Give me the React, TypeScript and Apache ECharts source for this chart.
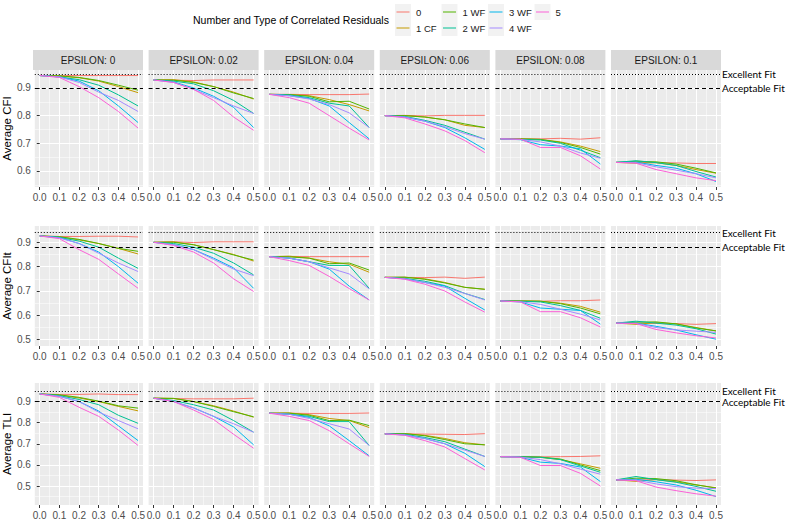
import React, { useEffect, useRef } from 'react';
import * as echarts from 'echarts';

// ---------------- data ----------------
const xValues = [0, 0.1, 0.2, 0.3, 0.4, 0.5];
const epsilonLabels = ['EPSILON: 0', 'EPSILON: 0.02', 'EPSILON: 0.04', 'EPSILON: 0.06', 'EPSILON: 0.08', 'EPSILON: 0.1'];
const groupNames = ['0', '1 CF', '1 WF', '2 WF', '3 WF', '4 WF', '5'];
const rowTitles = ['Average CFI', 'Average CFIt', 'Average TLI'];
const excellentCut = [0.95, 0.941, 0.954];
const acceptableCut = [0.9, 0.884, 0.9];
const yTicksCFI = [0.6, 0.7, 0.8, 0.9];
const yTicksCFIt = [0.5, 0.6, 0.7, 0.8, 0.9];
const yTicksTLI = [0.5, 0.6, 0.7, 0.8, 0.9];

// CFI panels (rows: 0, 1 CF, 1 WF, 2 WF, 3 WF, 4 WF, 5)
const cfiEps0 = [
  [0.945, 0.945, 0.945, 0.945, 0.945, 0.945],
  [0.945, 0.943, 0.937, 0.925, 0.905, 0.883],
  [0.945, 0.944, 0.938, 0.927, 0.910, 0.892],
  [0.945, 0.940, 0.930, 0.910, 0.875, 0.835],
  [0.945, 0.940, 0.925, 0.890, 0.835, 0.775],
  [0.945, 0.940, 0.920, 0.885, 0.855, 0.815],
  [0.945, 0.938, 0.905, 0.865, 0.815, 0.755],
];
const cfiEps002 = [
  [0.929, 0.928, 0.927, 0.929, 0.929, 0.929],
  [0.929, 0.930, 0.922, 0.905, 0.885, 0.860],
  [0.929, 0.928, 0.920, 0.905, 0.882, 0.862],
  [0.929, 0.925, 0.915, 0.890, 0.855, 0.808],
  [0.929, 0.922, 0.900, 0.870, 0.830, 0.757],
  [0.929, 0.920, 0.895, 0.865, 0.835, 0.808],
  [0.929, 0.920, 0.895, 0.855, 0.795, 0.747],
];
const cfiEps004 = [
  [0.877, 0.877, 0.876, 0.876, 0.876, 0.878],
  [0.877, 0.876, 0.872, 0.858, 0.840, 0.817],
  [0.877, 0.876, 0.870, 0.850, 0.852, 0.824],
  [0.877, 0.875, 0.865, 0.845, 0.835, 0.757],
  [0.877, 0.872, 0.862, 0.835, 0.775, 0.716],
  [0.877, 0.872, 0.860, 0.840, 0.810, 0.757],
  [0.877, 0.865, 0.845, 0.800, 0.755, 0.712],
];
const cfiEps006 = [
  [0.800, 0.801, 0.799, 0.801, 0.801, 0.801],
  [0.800, 0.800, 0.795, 0.785, 0.765, 0.757],
  [0.800, 0.800, 0.795, 0.785, 0.770, 0.757],
  [0.800, 0.797, 0.783, 0.765, 0.740, 0.715],
  [0.800, 0.795, 0.780, 0.757, 0.720, 0.678],
  [0.800, 0.795, 0.780, 0.760, 0.735, 0.715],
  [0.800, 0.792, 0.770, 0.745, 0.710, 0.666],
];
const cfiEps008 = [
  [0.716, 0.716, 0.716, 0.718, 0.715, 0.720],
  [0.716, 0.716, 0.714, 0.705, 0.690, 0.670],
  [0.716, 0.716, 0.714, 0.703, 0.685, 0.661],
  [0.716, 0.714, 0.712, 0.700, 0.675, 0.648],
  [0.716, 0.713, 0.695, 0.690, 0.680, 0.625],
  [0.716, 0.714, 0.705, 0.690, 0.665, 0.646],
  [0.716, 0.715, 0.685, 0.685, 0.655, 0.607],
];
const cfiEps010 = [
  [0.631, 0.631, 0.630, 0.629, 0.627, 0.627],
  [0.631, 0.628, 0.630, 0.620, 0.605, 0.592],
  [0.631, 0.635, 0.633, 0.625, 0.610, 0.593],
  [0.631, 0.637, 0.630, 0.620, 0.598, 0.578],
  [0.631, 0.632, 0.620, 0.610, 0.590, 0.562],
  [0.631, 0.630, 0.615, 0.603, 0.590, 0.575],
  [0.631, 0.628, 0.605, 0.590, 0.575, 0.565],
];

// CFIt panels
const cfitEps0 = [
  [0.926, 0.924, 0.924, 0.925, 0.925, 0.922],
  [0.926, 0.922, 0.910, 0.895, 0.875, 0.852],
  [0.926, 0.923, 0.912, 0.895, 0.875, 0.863],
  [0.926, 0.920, 0.905, 0.880, 0.835, 0.793],
  [0.926, 0.920, 0.895, 0.860, 0.800, 0.732],
  [0.926, 0.918, 0.895, 0.855, 0.815, 0.780],
  [0.926, 0.915, 0.870, 0.830, 0.770, 0.711],
];
const cfitEps002 = [
  [0.900, 0.902, 0.899, 0.902, 0.902, 0.902],
  [0.900, 0.902, 0.890, 0.870, 0.850, 0.823],
  [0.900, 0.900, 0.890, 0.870, 0.848, 0.827],
  [0.900, 0.895, 0.880, 0.855, 0.815, 0.766],
  [0.900, 0.890, 0.870, 0.835, 0.795, 0.711],
  [0.900, 0.890, 0.870, 0.830, 0.790, 0.763],
  [0.900, 0.887, 0.860, 0.815, 0.750, 0.698],
];
const cfitEps004 = [
  [0.841, 0.842, 0.841, 0.841, 0.841, 0.841],
  [0.841, 0.843, 0.835, 0.820, 0.810, 0.777],
  [0.841, 0.840, 0.835, 0.812, 0.815, 0.786],
  [0.841, 0.835, 0.820, 0.805, 0.805, 0.711],
  [0.841, 0.835, 0.820, 0.790, 0.720, 0.663],
  [0.841, 0.835, 0.820, 0.795, 0.770, 0.709],
  [0.841, 0.825, 0.805, 0.760, 0.710, 0.663],
];
const cfitEps006 = [
  [0.756, 0.756, 0.755, 0.757, 0.752, 0.757],
  [0.756, 0.756, 0.750, 0.735, 0.715, 0.707],
  [0.756, 0.757, 0.748, 0.733, 0.715, 0.707],
  [0.756, 0.752, 0.740, 0.722, 0.690, 0.665],
  [0.756, 0.750, 0.735, 0.720, 0.670, 0.622],
  [0.756, 0.750, 0.735, 0.715, 0.690, 0.663],
  [0.756, 0.748, 0.728, 0.700, 0.655, 0.613],
];
const cfitEps008 = [
  [0.659, 0.659, 0.658, 0.660, 0.660, 0.663],
  [0.659, 0.659, 0.658, 0.650, 0.637, 0.613],
  [0.659, 0.659, 0.658, 0.648, 0.630, 0.606],
  [0.659, 0.658, 0.655, 0.640, 0.620, 0.588],
  [0.659, 0.655, 0.630, 0.625, 0.620, 0.564],
  [0.659, 0.656, 0.645, 0.625, 0.605, 0.581],
  [0.659, 0.655, 0.615, 0.615, 0.590, 0.552],
];
const cfitEps010 = [
  [0.568, 0.568, 0.567, 0.566, 0.563, 0.566],
  [0.568, 0.563, 0.570, 0.565, 0.550, 0.536],
  [0.568, 0.572, 0.573, 0.565, 0.548, 0.536],
  [0.568, 0.576, 0.568, 0.560, 0.545, 0.523],
  [0.568, 0.568, 0.555, 0.540, 0.520, 0.502],
  [0.568, 0.567, 0.550, 0.540, 0.535, 0.530],
  [0.568, 0.566, 0.542, 0.528, 0.516, 0.507],
];

// TLI panels
const tliEps0 = [
  [0.936, 0.934, 0.934, 0.936, 0.933, 0.933],
  [0.936, 0.930, 0.917, 0.900, 0.877, 0.856],
  [0.936, 0.932, 0.920, 0.902, 0.880, 0.869],
  [0.936, 0.928, 0.910, 0.885, 0.835, 0.797],
  [0.936, 0.925, 0.900, 0.855, 0.785, 0.715],
  [0.936, 0.925, 0.900, 0.850, 0.810, 0.771],
  [0.936, 0.920, 0.873, 0.830, 0.765, 0.692],
];
const tliEps002 = [
  [0.916, 0.914, 0.913, 0.913, 0.913, 0.916],
  [0.916, 0.915, 0.900, 0.880, 0.855, 0.826],
  [0.916, 0.915, 0.900, 0.877, 0.852, 0.828],
  [0.916, 0.905, 0.885, 0.860, 0.810, 0.755],
  [0.916, 0.900, 0.870, 0.830, 0.780, 0.695],
  [0.916, 0.900, 0.870, 0.830, 0.795, 0.755],
  [0.916, 0.900, 0.860, 0.815, 0.745, 0.679],
];
const tliEps004 = [
  [0.845, 0.845, 0.844, 0.844, 0.844, 0.846],
  [0.845, 0.846, 0.838, 0.820, 0.810, 0.777],
  [0.845, 0.845, 0.835, 0.810, 0.812, 0.786],
  [0.845, 0.840, 0.830, 0.805, 0.805, 0.692],
  [0.845, 0.840, 0.825, 0.785, 0.715, 0.643],
  [0.845, 0.840, 0.820, 0.795, 0.770, 0.692],
  [0.845, 0.830, 0.810, 0.762, 0.700, 0.640],
];
const tliEps006 = [
  [0.747, 0.747, 0.746, 0.745, 0.744, 0.748],
  [0.747, 0.748, 0.740, 0.725, 0.705, 0.695],
  [0.747, 0.748, 0.738, 0.720, 0.700, 0.695],
  [0.747, 0.745, 0.730, 0.710, 0.675, 0.640],
  [0.747, 0.742, 0.725, 0.700, 0.655, 0.592],
  [0.747, 0.742, 0.725, 0.700, 0.670, 0.640],
  [0.747, 0.740, 0.715, 0.685, 0.630, 0.576],
];
const tliEps008 = [
  [0.639, 0.639, 0.638, 0.639, 0.640, 0.643],
  [0.639, 0.638, 0.636, 0.625, 0.605, 0.584],
  [0.639, 0.639, 0.637, 0.628, 0.600, 0.573],
  [0.639, 0.638, 0.636, 0.625, 0.595, 0.565],
  [0.639, 0.636, 0.613, 0.607, 0.590, 0.521],
  [0.639, 0.637, 0.625, 0.605, 0.580, 0.556],
  [0.639, 0.636, 0.597, 0.597, 0.560, 0.500],
];
const tliEps010 = [
  [0.529, 0.528, 0.531, 0.528, 0.526, 0.529],
  [0.529, 0.522, 0.530, 0.520, 0.505, 0.492],
  [0.529, 0.537, 0.535, 0.525, 0.506, 0.490],
  [0.529, 0.545, 0.530, 0.518, 0.498, 0.475],
  [0.529, 0.532, 0.520, 0.505, 0.480, 0.450],
  [0.529, 0.528, 0.510, 0.497, 0.490, 0.488],
  [0.529, 0.525, 0.495, 0.478, 0.463, 0.452],
];

const cfiPanels = [cfiEps0, cfiEps002, cfiEps004, cfiEps006, cfiEps008, cfiEps010];
const cfitPanels = [cfitEps0, cfitEps002, cfitEps004, cfitEps006, cfitEps008, cfitEps010];
const tliPanels = [tliEps0, tliEps002, tliEps004, tliEps006, tliEps008, tliEps010];

// ---------------- layout / style ----------------
const COLORS = ['#F8766D', '#C49A00', '#53B400', '#00C094', '#00B6EB', '#A58AFF', '#FB61D7'];
const FONT = '"Liberation Sans", Arial, sans-serif';
const FIT_FONT = 'Lato, "Open Sans", sans-serif';
const PANEL_LEFT0 = 33;
const PANEL_PITCH = 115.6;
const PANEL_W = 110;
const ROW_TOP = [70, 226, 383];
const ROW_H = [117, 120, 122];
const ROW_YMIN = [0.542, 0.474, 0.41];
const ROW_YMAX = [0.965, 0.967, 0.988];
const STRIP_TOP = 50;
const STRIP_H = 20;

function buildOption() {
  const rows = [cfiPanels, cfitPanels, tliPanels];
  const rowTicks = [yTicksCFI, yTicksCFIt, yTicksTLI];
  const grid: any[] = [];
  const xAxis: any[] = [];
  const yAxis: any[] = [];
  const series: any[] = [];
  const graphic: any[] = [];

  rows.forEach((panels, r) => {
    panels.forEach((panel, c) => {
      const idx = r * 6 + c;
      const left = PANEL_LEFT0 + c * PANEL_PITCH;
      grid.push({
        left, top: ROW_TOP[r], width: PANEL_W, height: ROW_H[r],
        show: true, backgroundColor: '#EBEBEB', borderWidth: 0, containLabel: false,
      });
      xAxis.push({
        gridIndex: idx, type: 'value', min: -0.025, max: 0.525,
        minInterval: 0.1, maxInterval: 0.1,
        axisLine: { show: false },
        axisTick: { show: true, length: 3, lineStyle: { color: '#333333', width: 1 }, customValues: xValues },
        axisLabel: {
          customValues: xValues, formatter: (v: number) => v.toFixed(1),
          color: '#4D4D4D', fontSize: 10, margin: 5, fontFamily: FONT,
        },
        splitLine: { show: true, lineStyle: { color: '#FFFFFF', width: 1 } },
        minorTick: { show: false, splitNumber: 2 },
        minorSplitLine: { show: true, lineStyle: { color: '#FFFFFF', width: 0.5 } },
      });
      const first = c === 0;
      yAxis.push({
        gridIndex: idx, type: 'value', min: ROW_YMIN[r], max: ROW_YMAX[r],
        minInterval: 0.1, maxInterval: 0.1,
        axisLine: { show: false },
        axisTick: { show: first, length: 3, lineStyle: { color: '#333333', width: 1 }, customValues: rowTicks[r] },
        axisLabel: {
          show: first, customValues: rowTicks[r], formatter: (v: number) => v.toFixed(1),
          color: '#4D4D4D', fontSize: 10, margin: 4, fontFamily: FONT,
        },
        splitLine: { show: true, lineStyle: { color: '#FFFFFF', width: 1 } },
        minorTick: { show: false, splitNumber: 2 },
        minorSplitLine: { show: true, lineStyle: { color: '#FFFFFF', width: 0.5 } },
        name: first ? rowTitles[r] : '',
        nameLocation: 'middle', nameGap: 19,
        nameTextStyle: { fontSize: 11.5, color: '#000000', fontFamily: FONT },
      });
      panel.forEach((vals, g) => {
        const s: any = {
          type: 'line', name: groupNames[g], xAxisIndex: idx, yAxisIndex: idx,
          data: xValues.map((x, i) => [x, vals[i]]),
          symbol: 'none', showSymbol: false, silent: true,
          lineStyle: { color: COLORS[g], width: 1 }, itemStyle: { color: COLORS[g] },
          z: 3,
        };
        if (g === 0) {
          const last = c === 5;
          s.markLine = {
            silent: true, symbol: 'none', animation: false,
            data: [
              {
                yAxis: excellentCut[r],
                lineStyle: { color: '#000000', width: 1, type: [1, 2] },
                label: { show: last, position: 'end', formatter: 'Excellent Fit', distance: 1, color: '#000', fontSize: 10, fontFamily: FIT_FONT },
              },
              {
                yAxis: acceptableCut[r],
                lineStyle: { color: '#000000', width: 1, type: [4, 3] },
                label: { show: last, position: 'end', formatter: 'Acceptable Fit', distance: 1, color: '#000', fontSize: 10, fontFamily: FIT_FONT },
              },
            ],
          };
        }
        series.push(s);
      });
    });
  });

  // facet strips
  epsilonLabels.forEach((lab, c) => {
    const left = PANEL_LEFT0 + c * PANEL_PITCH;
    graphic.push({ type: 'rect', shape: { x: left, y: STRIP_TOP, width: PANEL_W, height: STRIP_H }, style: { fill: '#D9D9D9' }, silent: true });
    graphic.push({
      type: 'text', x: left + PANEL_W / 2, y: STRIP_TOP + STRIP_H / 2,
      style: { text: lab, fill: '#1A1A1A', font: `10px ${FONT}`, align: 'center', verticalAlign: 'middle' }, silent: true,
    });
  });

  // legend
  graphic.push({
    type: 'text', x: 193, y: 20,
    style: { text: 'Number and Type of Correlated Residuals', fill: '#000', font: `10.5px ${FONT}`, align: 'left', verticalAlign: 'middle' }, silent: true,
  });
  const keyX = [395, 441.5, 488, 534.5];
  const keyY = [12, 28];
  groupNames.forEach((nm, g) => {
    const col = Math.floor(g / 2);
    const row = g % 2;
    const x = keyX[col];
    const y = keyY[row];
    graphic.push({ type: 'rect', shape: { x, y: y - 8, width: 16, height: 16 }, style: { fill: '#F2F2F2' }, silent: true });
    graphic.push({ type: 'line', shape: { x1: x + 1.5, y1: y, x2: x + 14.5, y2: y }, style: { stroke: COLORS[g], lineWidth: 1 }, silent: true });
    graphic.push({
      type: 'text', x: x + 21, y,
      style: { text: nm, fill: '#1A1A1A', font: `9.5px ${FONT}`, align: 'left', verticalAlign: 'middle' }, silent: true,
    });
  });

  return {
    animation: false,
    backgroundColor: '#FFFFFF',
    grid, xAxis, yAxis, series, graphic,
  };
}

export default function App() {
  const ref = useRef<HTMLDivElement>(null);
  useEffect(() => {
    document.body.style.margin = '0';
    if (!ref.current) return;
    const chart = echarts.init(ref.current, undefined, { renderer: 'svg' });
    chart.setOption(buildOption() as any);
    return () => chart.dispose();
  }, []);
  return <div ref={ref} style={{ position: 'fixed', left: 0, top: 0, width: 788, height: 522 }} />;
}
